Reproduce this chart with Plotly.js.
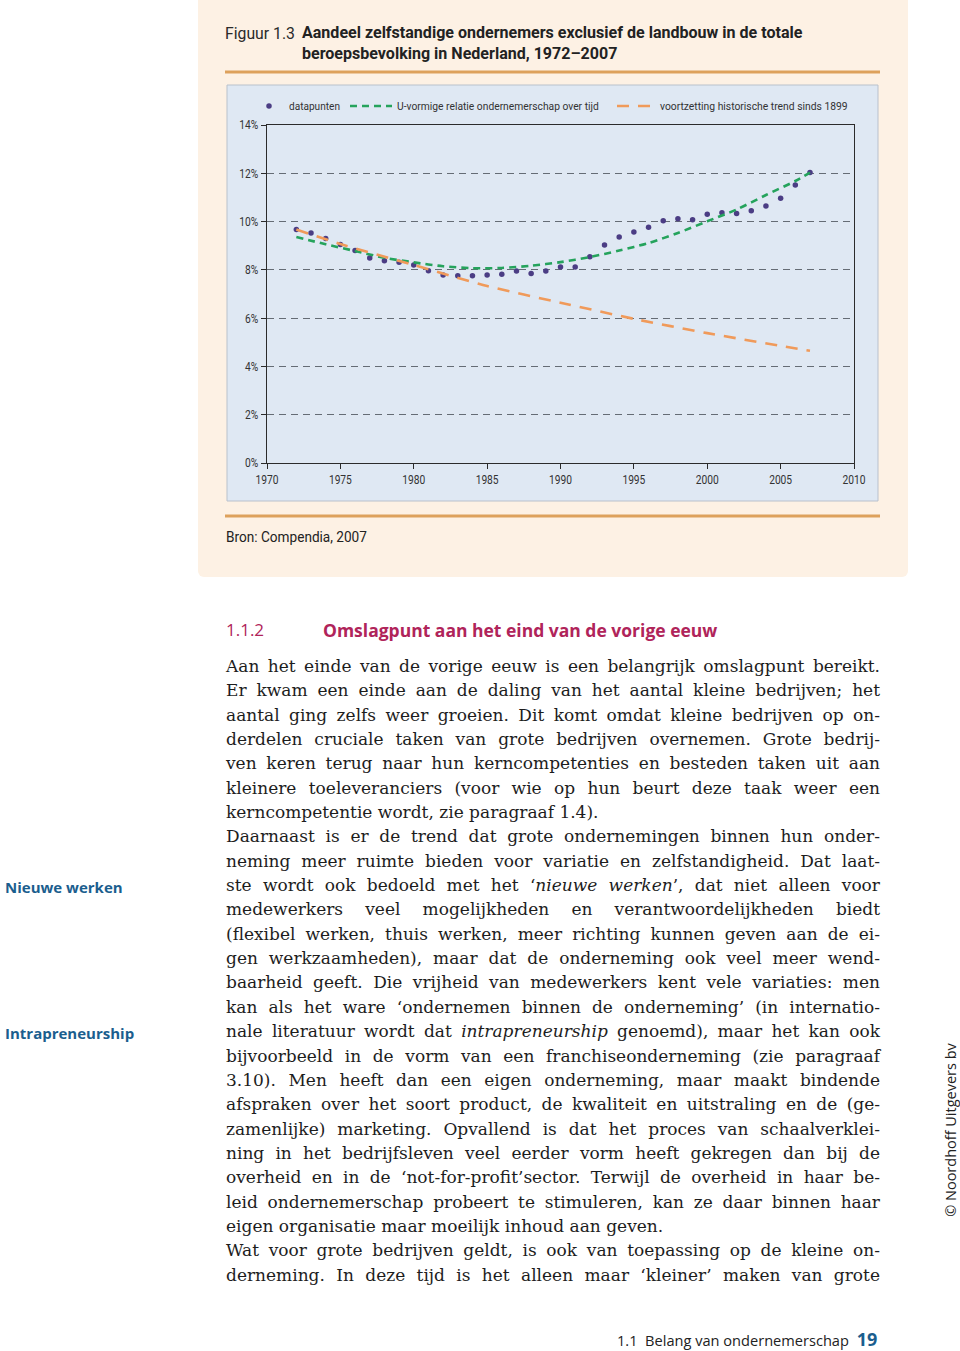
<!DOCTYPE html>
<html>
<head>
<meta charset="utf-8">
<script src="https://cdn.plot.ly/plotly-3.0.1.min.js"></script>
<style>
  html, body { margin:0; padding:0; background:#ffffff; }
  body { width:960px; height:1351px; position:relative; overflow:hidden; }
  #panel { position:absolute; left:198px; top:0; width:710px; height:577px; background:#FDF1E4; border-radius:0 0 6px 6px; }
  #chart { position:absolute; left:198px; top:0; width:710px; height:577px; }
  .sans { font-family:'Open Sans','Noto Sans',sans-serif; }
  #head { position:absolute; left:226px; top:618px; color:#B0245A; font-size:17px; white-space:nowrap; }
  #head .num { position:absolute; left:0; top:0; }
  #head .ttl { position:absolute; left:97px; top:0; font-weight:700; font-size:17.5px; }
  #body { position:absolute; left:226px; top:654px; width:654px; font-family:'DejaVu Serif','Liberation Serif',serif; font-size:17px; line-height:24.35px; color:#1d1d1d; }
  .ln { white-space:nowrap; text-align:justify; text-align-last:justify; width:654px; height:24.35px; }
  .ln.end { text-align-last:left; }
  .note { position:absolute; left:5px; color:#1B5E8E; font-weight:700; font-size:15px; white-space:nowrap; }
  #foot { position:absolute; left:617px; top:1327px; font-size:14.6px; color:#222; white-space:nowrap; }
  #foot b { color:#1B5E8E; font-size:18px; margin-left:4px; }
  #copy { position:absolute; left:950px; top:1130px; transform:translate(-50%,-50%) rotate(-90deg); font-size:14.5px; color:#222; white-space:nowrap; }
</style>
</head>
<body>
<div id="panel"></div>
<div id="chart"></div>

<div id="head" class="sans"><span class="num">1.1.2</span><span class="ttl">Omslagpunt aan het eind van de vorige eeuw</span></div>

<div class="note sans" style="top:877px;">Nieuwe werken</div>
<div class="note sans" style="top:1023px;">Intrapreneurship</div>

<div id="body">
<div class="ln">Aan het einde van de vorige eeuw is een belangrijk omslagpunt bereikt.</div>
<div class="ln">Er kwam een einde aan de daling van het aantal kleine bedrijven; het</div>
<div class="ln">aantal ging zelfs weer groeien. Dit komt omdat kleine bedrijven op on-</div>
<div class="ln">derdelen cruciale taken van grote bedrijven overnemen. Grote bedrij-</div>
<div class="ln">ven keren terug naar hun kerncompetenties en besteden taken uit aan</div>
<div class="ln">kleinere toeleveranciers (voor wie op hun beurt deze taak weer een</div>
<div class="ln end">kerncompetentie wordt, zie paragraaf 1.4).</div>
<div class="ln">Daarnaast is er de trend dat grote ondernemingen binnen hun onder-</div>
<div class="ln">neming meer ruimte bieden voor variatie en zelfstandigheid. Dat laat-</div>
<div class="ln">ste wordt ook bedoeld met het ‘<i>nieuwe werken</i>’, dat niet alleen voor</div>
<div class="ln">medewerkers veel mogelijkheden en verantwoordelijkheden biedt</div>
<div class="ln">(flexibel werken, thuis werken, meer richting kunnen geven aan de ei-</div>
<div class="ln">gen werkzaamheden), maar dat de onderneming ook veel meer wend-</div>
<div class="ln">baarheid geeft. Die vrijheid van medewerkers kent vele variaties: men</div>
<div class="ln">kan als het ware ‘ondernemen binnen de onderneming’ (in internatio-</div>
<div class="ln">nale literatuur wordt dat <i>intrapreneurship</i> genoemd), maar het kan ook</div>
<div class="ln">bijvoorbeeld in de vorm van een franchiseonderneming (zie paragraaf</div>
<div class="ln">3.10). Men heeft dan een eigen onderneming, maar maakt bindende</div>
<div class="ln">afspraken over het soort product, de kwaliteit en uitstraling en de (ge-</div>
<div class="ln">zamenlijke) marketing. Opvallend is dat het proces van schaalverklei-</div>
<div class="ln">ning in het bedrijfsleven veel eerder vorm heeft gekregen dan bij de</div>
<div class="ln">overheid en in de ‘not-for-profit’sector. Terwijl de overheid in haar be-</div>
<div class="ln">leid ondernemerschap probeert te stimuleren, kan ze daar binnen haar</div>
<div class="ln end">eigen organisatie maar moeilijk inhoud aan geven.</div>
<div class="ln">Wat voor grote bedrijven geldt, is ook van toepassing op de kleine on-</div>
<div class="ln">derneming. In deze tijd is het alleen maar ‘kleiner’ maken van grote</div>
</div>

<div id="foot" class="sans">1.1&nbsp; Belang van ondernemerschap <b>19</b></div>
<div id="copy" class="sans">© Noordhoff Uitgevers bv</div>

<script>
// ---------- data ----------
const years = [1972,1973,1974,1975,1976,1977,1978,1979,1980,1981,1982,1983,1984,1985,1986,1987,1988,1989,
               1990,1991,1992,1993,1994,1995,1996,1997,1998,1999,2000,2001,2002,2003,2004,2005,2006,2007];
const share = [9.67,9.53,9.30,9.05,8.80,8.49,8.38,8.32,8.20,7.96,7.79,7.76,7.76,7.79,7.82,7.95,7.85,7.95,
               8.12,8.12,8.54,9.03,9.36,9.57,9.76,10.03,10.12,10.08,10.30,10.37,10.33,10.45,10.64,10.97,11.51,12.03];
const uYears = [1972,1974,1976,1978,1980,1982,1984,1986,1988,1990,1992,1994,1996,1998,2000,2002,2004,2006,2007];
const uTrend = [9.36,9.06,8.78,8.50,8.31,8.15,8.07,8.08,8.17,8.32,8.53,8.80,9.11,9.53,10.01,10.50,11.10,11.68,12.03];
const hYears = [1972,1975,1980,1985,1990,1995,2000,2005,2007];
const hTrend = [9.67,9.07,8.20,7.33,6.64,5.97,5.38,4.85,4.65];
const xTicks = [1970,1975,1980,1985,1990,1995,2000,2005,2010];
const yTicks = [0,2,4,6,8,10,12,14];
const yTickText = ['0%','2%','4%','6%','8%','10%','12%','14%'];
const legendNames = ['datapunten','U-vormige relatie ondernemerschap over tijd','voortzetting historische trend sinds 1899'];
const titleLead = 'Figuur 1.3';
const titleMain = 'Aandeel zelfstandige ondernemers exclusief de landbouw in de totale<br>beroepsbevolking in Nederland, 1972–2007';
const sourceText = 'Bron: Compendia, 2007';

// ---------- geometry helpers (page pixels -> paper) ----------
const DIVX = 198, ML = 69, MT = 125, PW = 587, PH = 338;
const px = x => (x - DIVX - ML) / PW;
const py = y => (MT + PH - y) / PH;

const fam = "Roboto, 'Liberation Sans', sans-serif";

const traces = [
  { x: years, y: share, type:'scatter', mode:'markers', name: legendNames[0], legend:'legend',
    marker:{ color:'#4B3D84', size:5.5 } },
  { x: uYears, y: uTrend, type:'scatter', mode:'lines', name: legendNames[1], legend:'legend2',
    line:{ color:'#25A35C', width:2.6, dash:'7px,5px', shape:'spline', smoothing:0.8 } },
  { x: hYears, y: hTrend, type:'scatter', mode:'lines', name: legendNames[2], legend:'legend3',
    line:{ color:'#F09A5A', width:2.6, dash:'12px,9px', shape:'spline', smoothing:0.6 } }
];

const legBase = { orientation:'h', yanchor:'middle', xanchor:'left', y: py(106),
                  bgcolor:'rgba(0,0,0,0)', borderwidth:0,
                  font:{ family: fam, size: 11, color:'#333' } };

const layout = {
  width: 710, height: 577,
  margin: { l: ML, r: 710 - ML - PW, t: MT, b: 577 - MT - PH },
  paper_bgcolor: 'rgba(0,0,0,0)',
  plot_bgcolor: '#DFE8F3',
  font: { family: fam, size: 11, color: '#333' },
  title: { text: titleLead, x: 27/710, xanchor:'left', xref:'container',
           y: 1 - 33/577, yanchor:'middle', yref:'container',
           font: { family: fam, size: 16, color: '#2a2a2a' } },
  showlegend: true,
  legend:  Object.assign({}, legBase, { x: px(249), itemwidth: 30 }),
  legend2: Object.assign({}, legBase, { x: px(345), itemwidth: 42 }),
  legend3: Object.assign({}, legBase, { x: px(612), itemwidth: 38 }),
  xaxis: { range:[1970,2010], tickvals: xTicks, ticktext: xTicks.map(String),
           showgrid:false, zeroline:false, showline:true, linecolor:'#2b2b2b', linewidth:1.2,
           mirror:true, ticks:'outside', ticklen:5, tickcolor:'#2b2b2b',
           tickfont:{ family: fam, size: 12.5, color:'#333' } },
  yaxis: { range:[0,14], tickvals: yTicks, ticktext: yTickText,
           showgrid:true, gridcolor:'#656C75', gridwidth:1, griddash:'7px,5px',
           zeroline:false, showline:true, linecolor:'#2b2b2b', linewidth:1.2,
           mirror:true, ticks:'outside', ticklen:5, tickcolor:'#2b2b2b',
           tickfont:{ family: fam, size: 12.5, color:'#333' } },
  shapes: [
    { type:'rect', xref:'paper', yref:'paper', x0: px(227), x1: px(878), y0: py(501), y1: py(85),
      fillcolor:'#DFE8F3', line:{ color:'#B9C1CC', width:1 }, layer:'below' },
    { type:'line', xref:'paper', yref:'paper', x0: px(225), x1: px(880), y0: py(72), y1: py(72),
      line:{ color:'#DDA15C', width:3 } },
    { type:'line', xref:'paper', yref:'paper', x0: px(225), x1: px(880), y0: py(516), y1: py(516),
      line:{ color:'#DDA15C', width:3 } }
  ],
  annotations: [
    { text:'<b>' + titleMain + '</b>',
      xref:'paper', yref:'paper', x: px(300), y: py(43), xanchor:'left', yanchor:'middle', align:'left',
      showarrow:false, font:{ family: fam, size: 16, color:'#222' } },
    { text: sourceText, xref:'paper', yref:'paper', x: px(224), y: py(537),
      xanchor:'left', yanchor:'middle', showarrow:false, font:{ family: fam, size: 15, color:'#222' } }
  ]
};

// horizontally condense SVG text to mimic the condensed typeface of the original
function squeeze(t, s, ax){
  if (!t.hasAttribute('data-t0')) t.setAttribute('data-t0', t.getAttribute('transform') || '');
  t.setAttribute('transform', t.getAttribute('data-t0') + ' translate(' + ax + ',0) scale(' + s + ',1) translate(' + (-ax) + ',0)');
}
function condense(){
  const svgTexts = Array.from(document.querySelectorAll('#chart svg text'));
  const targets = {};
  targets[titleLead] = 70;
  targets[sourceText] = 141;
  targets[legendNames[0]] = 51;
  targets[legendNames[1]] = 202;
  targets[legendNames[2]] = 188;
  let tickScale = 0.8;
  const t1970 = svgTexts.find(t => t.textContent === '1970');
  if (t1970) tickScale = 23 / t1970.getBBox().width;
  svgTexts.forEach(t => {
    const s = t.textContent;
    const bb = t.getBBox();
    if (targets[s] !== undefined) { squeeze(t, targets[s] / bb.width, bb.x); }
    else if (s.indexOf('Aandeel') === 0) { squeeze(t, 501 / bb.width, bb.x); }
    else if (t.closest('.xtick') || t.closest('.ytick')) {
      squeeze(t, tickScale, parseFloat(t.getAttribute('x') || '0'));
    }
  });
}

Plotly.newPlot('chart', traces, layout, { displayModeBar:false, staticPlot:true }).then(() => {
  if (document.fonts && document.fonts.ready) document.fonts.ready.then(condense); else condense();
});

// fit each justified body line into the column width
function fitLines(){
  document.querySelectorAll('.ln').forEach(el => {
    el.style.letterSpacing = '0px';
    const span = document.createElement('span');
    span.innerHTML = el.innerHTML;
    span.style.whiteSpace = 'nowrap';
    span.style.visibility = 'hidden';
    span.style.position = 'absolute';
    el.appendChild(span);
    const w = span.getBoundingClientRect().width;
    el.removeChild(span);
    if (w > 652) {
      const n = el.textContent.length;
      el.style.letterSpacing = ((652 - w) / n).toFixed(3) + 'px';
    }
  });
}
if (document.fonts && document.fonts.ready) document.fonts.ready.then(fitLines); else fitLines();
</script>
</body>
</html>
